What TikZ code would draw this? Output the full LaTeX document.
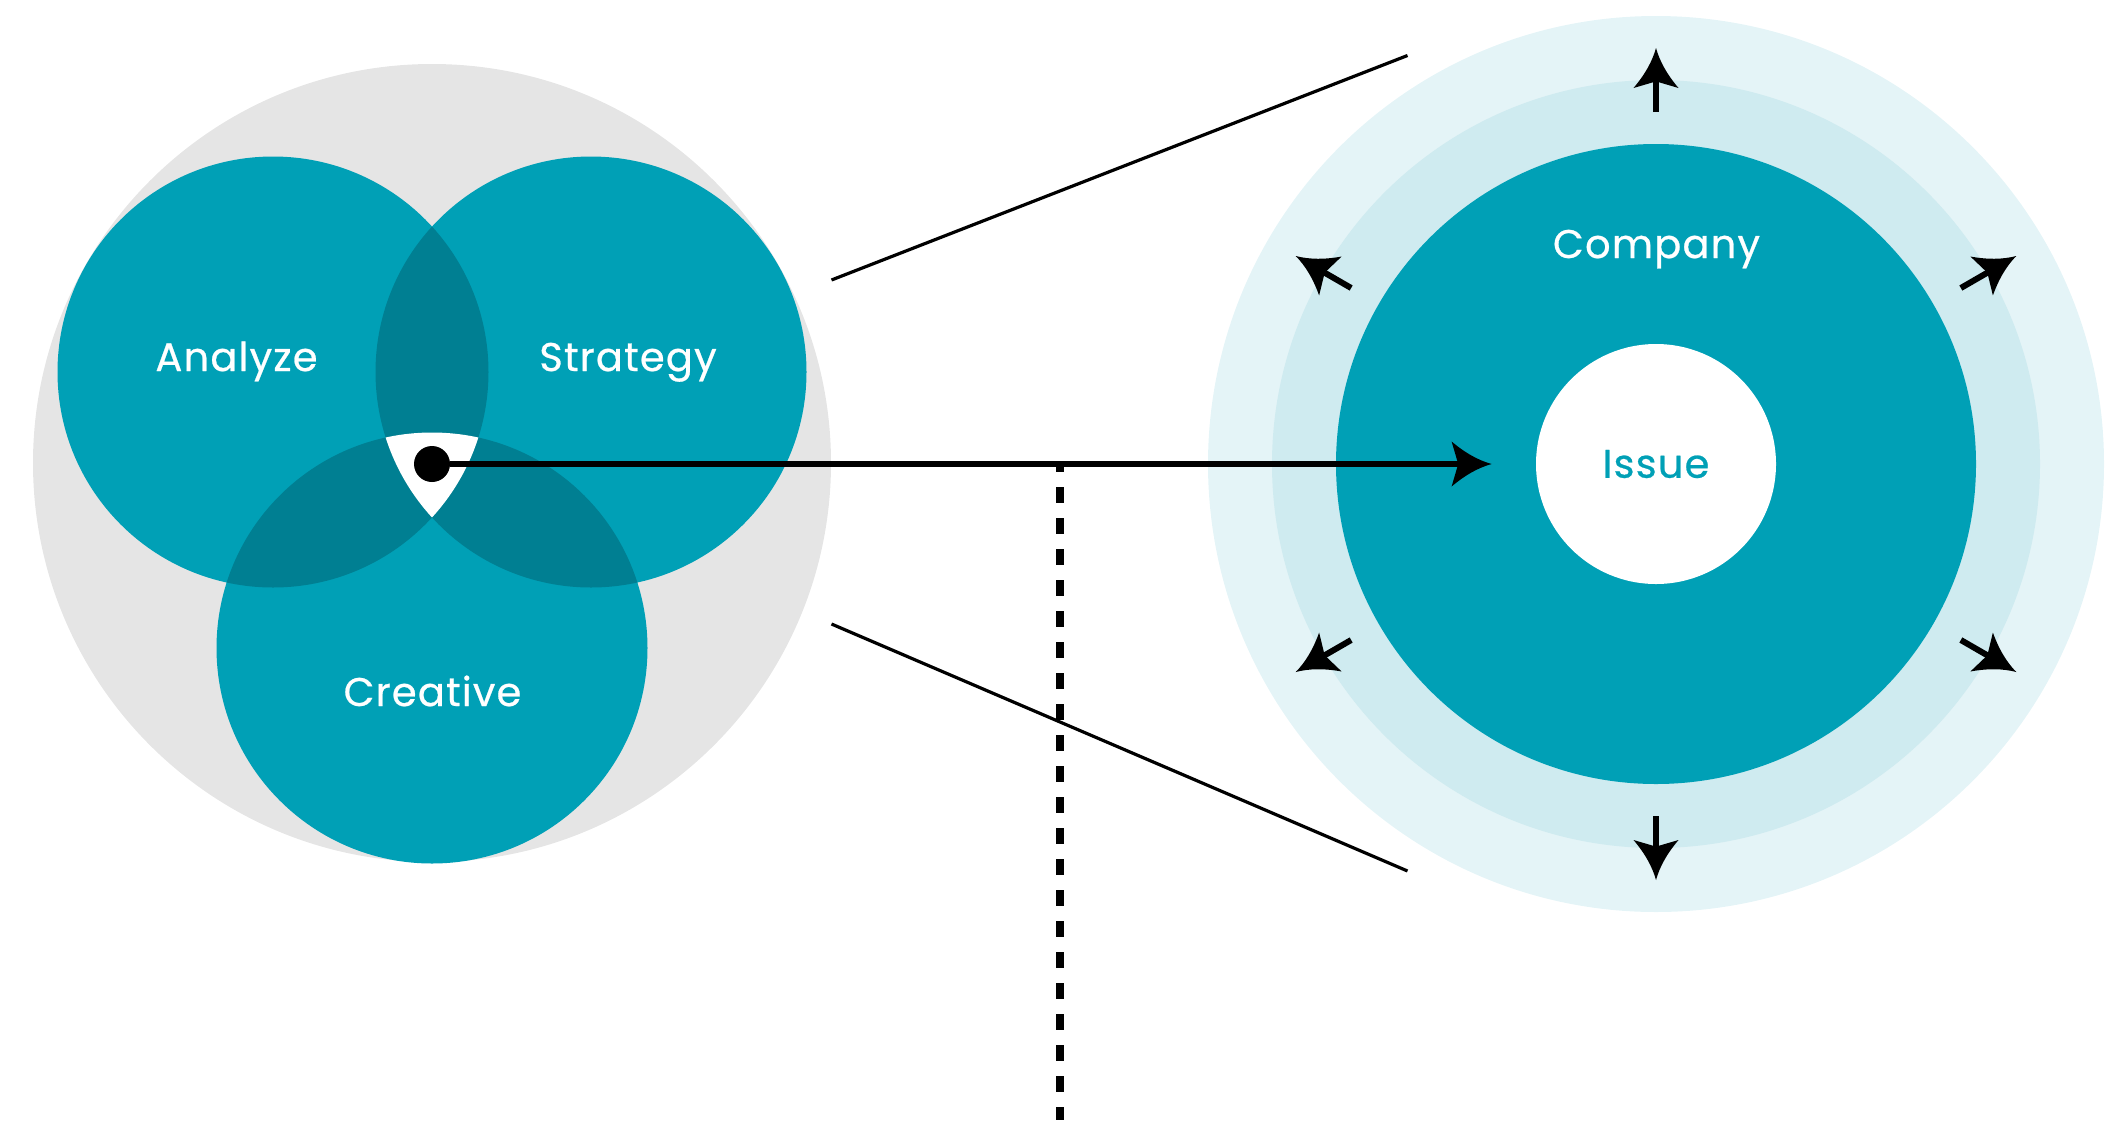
\documentclass[tikz,border=0pt]{standalone}
\usepackage{fontspec}
\newfontfamily\lblfont{Poppins}[LetterSpace=3, FakeBold=0.6]
\usetikzlibrary{arrows.meta,calc}
\definecolor{venngray}{HTML}{E5E5E5}
\definecolor{tealmain}{HTML}{00A0B6}
\definecolor{tealdark}{HTML}{007F92}
\definecolor{ringlight}{HTML}{CFEBF0}
\definecolor{ringpale}{HTML}{E4F4F7}
\pgfdeclarearrow{
  name = Swept,
  setup code = {
    \pgfarrowssettipend{0pt}
    \pgfarrowssetlineend{-15pt}
    \pgfarrowssetvisualbackend{-20pt}
    \pgfarrowssetbackend{-20pt}
    \pgfarrowshullpoint{0pt}{0pt}
    \pgfarrowsupperhullpoint{-20pt}{11.25pt}
  },
  drawing code = {
    \pgfpathmoveto{\pgfpointorigin}
    \pgfpathquadraticcurveto{\pgfpoint{-10pt}{2.75pt}}{\pgfpoint{-20pt}{11.25pt}}
    \pgfpathlineto{\pgfpoint{-16.7pt}{0pt}}
    \pgfpathlineto{\pgfpoint{-20pt}{-11.25pt}}
    \pgfpathquadraticcurveto{\pgfpoint{-10pt}{-2.75pt}}{\pgfpointorigin}
    \pgfpathclose
    \pgfusepathqfill
  }
}
\tikzset{
  lbl/.style={font=\lblfont\fontsize{20pt}{24pt}\selectfont, text=white, inner sep=0pt, anchor=base},
  dotnode/.style={circle, fill=black, minimum size=18pt, inner sep=0pt},
  issuenode/.style={circle, fill=white, minimum size=120pt, inner sep=0pt,
    font=\lblfont\fontsize{20pt}{24pt}\selectfont, text=tealmain},
  mainarrow/.style={line width=2.8pt, -Swept, shorten >=22pt},
  stemarrow/.style={line width=3pt, -Swept},
  thinline/.style={line width=1.6pt},
  dashline/.style={line width=4pt, dash pattern=on 7.75pt off 7.75pt, dash phase=3.9pt}
}
\begin{document}
\begin{tikzpicture}[x=0.5pt,y=-0.5pt]
\useasboundingbox (0,0) rectangle (2120,1120);
% Venn group
\fill[venngray] (432,463) circle[radius=399];
\coordinate (A) at (273,372);
\coordinate (S) at (591,372);
\coordinate (Cr) at (432,648);
\foreach \c in {A,S,Cr} \fill[tealmain] (\c) circle[radius=215.5];
\begin{scope}
  \clip (A) circle[radius=215.5];
  \fill[tealdark] (S) circle[radius=215.5];
  \fill[tealdark] (Cr) circle[radius=215.5];
\end{scope}
\begin{scope}
  \clip (S) circle[radius=215.5];
  \fill[tealdark] (Cr) circle[radius=215.5];
\end{scope}
\begin{scope}
  \clip (A) circle[radius=215.5];
  \clip (S) circle[radius=215.5];
  \fill[white] (Cr) circle[radius=215.5];
\end{scope}
\node[lbl] (analyze) at (236.5,371) {Analyze};
\node[lbl] (strategy) at (628,371) {Strategy};
\node[lbl] (creative) at (432.5,706) {Creative};
% Right group
\coordinate (R) at (1656,464);
\fill[ringpale] (R) circle[radius=448];
\fill[ringlight] (R) circle[radius=384];
\fill[tealmain] (R) circle[radius=320];
\node[issuenode] (issue) at (R) {Issue};
\node[lbl] (company) at (1656.5,258) {Company};
\foreach \a in {90,30,-30,-90,150,210}{
  \coordinate (s\a) at ($(R)+(\a:352)$);
  \coordinate (t\a) at ($(R)+(\a:416)$);
  \draw[stemarrow] (s\a) -- (t\a);
}
% zoom lines
\coordinate (u1) at (831.5,280);
\coordinate (u2) at (1407.5,55.5);
\coordinate (l1) at (831.5,624);
\coordinate (l2) at (1407.5,871);
\draw[thinline] (u1) -- (u2);
\draw[thinline] (l1) -- (l2);
% dashed line
\coordinate (dtop) at (1060,464);
\coordinate (dbot) at (1060,1120);
\draw[dashline] (dtop) -- (dbot);
% dot and main arrow
\node[dotnode] (dot) at (432,464) {};
\draw[mainarrow] (dot) -- (issue);
\end{tikzpicture}
\end{document}
